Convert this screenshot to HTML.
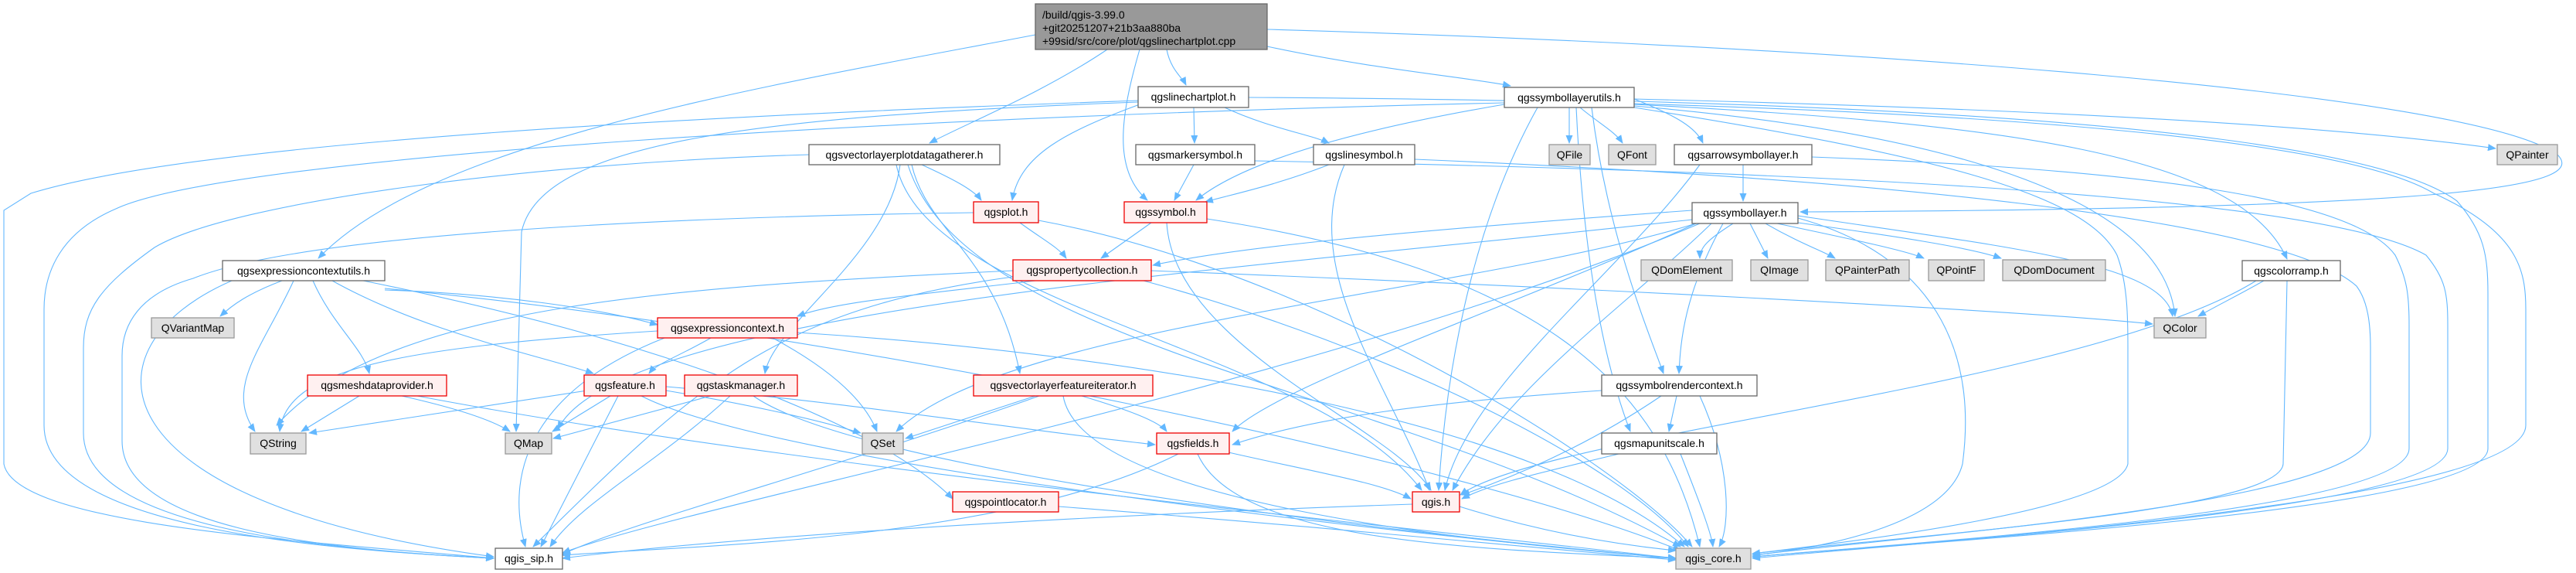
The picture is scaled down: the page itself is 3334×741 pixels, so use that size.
<!DOCTYPE html>
<html><head><meta charset="utf-8"><style>
html,body{margin:0;padding:0;background:#fff;}
svg{display:block;}
text{font-family:"Liberation Sans","DejaVu Sans",sans-serif;font-size:14px;fill:#000;}
.e{fill:none;stroke:#63b8ff;stroke-width:1.1;marker-end:url(#a);}
.n{fill:#fff;stroke:#666;stroke-width:1.3;}
.r{fill:#fff0f0;stroke:#e00;stroke-width:1.3;}
.g{fill:#e0e0e0;stroke:#999;stroke-width:1.3;}
</style></head><body>
<svg width="3334" height="741" viewBox="0 0 3334 741" xmlns="http://www.w3.org/2000/svg">
<defs><marker id="a" markerUnits="userSpaceOnUse" markerWidth="11" markerHeight="9" refX="10" refY="4.5" orient="auto"><path d="M0,0 L11,4.5 L0,9 z" fill="#63b8ff"/></marker></defs>
<g>
<path class="e" d="M1340,45 C1000,110 560,180 412,334"/>
<path class="e" d="M1433,64 C1350,120 1250,160 1203,185"/>
<path class="e" d="M1510,64 C1515,90 1530,100 1535,110"/>
<path class="e" d="M1475,64 C1450,150 1440,220 1485,259"/>
<path class="e" d="M1640,60 C1780,90 1900,100 1955,111"/>
<path class="e" d="M1640,38 C2400,60 3200,120 3310,200 C3350,240 3200,270 2330,274"/>
<path class="e" d="M1475,135 C1380,170 1320,200 1310,259"/>
<path class="e" d="M1545,139 L1546,185"/>
<path class="e" d="M1585,139 C1640,165 1700,175 1720,185"/>
<path class="e" d="M1473,130 C1200,140 300,170 40,250 L5,272 L5,600 C20,680 400,700 639,722"/>
<path class="e" d="M1616,126 C2300,130 3000,160 3150,250 C3260,300 3269,350 3269,400 L3269,550 C3269,650 2500,700 2268,722"/>
<path class="e" d="M1473,132 C1000,150 700,180 675,300 L668,558"/>
<path class="e" d="M2031,139 L2031,185"/>
<path class="e" d="M2045,139 C2070,160 2090,170 2100,185"/>
<path class="e" d="M2115,128 C2170,150 2195,165 2204,185"/>
<path class="e" d="M2115,128 C2600,140 3000,160 3230,192"/>
<path class="e" d="M2115,135 C2600,160 2900,200 2960,335"/>
<path class="e" d="M2115,137 C2500,170 2800,250 2815,409"/>
<path class="e" d="M1947,135 C1800,160 1620,200 1548,259"/>
<path class="e" d="M1990,139 C1900,300 1870,500 1862,634"/>
<path class="e" d="M2040,139 C2050,350 2080,480 2110,558"/>
<path class="e" d="M2060,139 C2080,300 2130,420 2153,483"/>
<path class="e" d="M1947,133 C1200,150 300,200 150,270 C80,300 57,350 57,400 L57,550 C57,680 400,710 639,722"/>
<path class="e" d="M2115,131 C2800,150 3100,200 3180,260 C3215,300 3220,330 3220,380 L3220,580 C3220,660 2500,700 2268,720"/>
<path class="e" d="M2115,139 C2500,200 2700,250 2740,330 C2755,370 2754,420 2754,460 L2754,600 C2740,660 2400,700 2268,716"/>
<path class="e" d="M1193,213 C1230,230 1260,245 1270,259"/>
<path class="e" d="M1180,213 C1200,300 1290,330 1320,483"/>
<path class="e" d="M1165,213 C1150,330 1000,420 990,483"/>
<path class="e" d="M1047,200 C700,210 300,260 200,320 C130,370 108,400 108,450 L108,560 C108,680 400,710 639,722"/>
<path class="e" d="M1175,213 C1250,450 1800,500 2175,707"/>
<path class="e" d="M1160,213 C1200,400 1700,450 1840,634"/>
<path class="e" d="M1545,213 L1520,259"/>
<path class="e" d="M1720,213 C1650,240 1600,250 1560,261"/>
<path class="e" d="M1740,213 C1680,350 1800,500 1850,634"/>
<path class="e" d="M1624,208 C2300,220 3000,250 3140,330 C3165,360 3168,380 3168,420 L3168,580 C3168,660 2500,700 2268,720"/>
<path class="e" d="M1831,206 C2400,230 2950,280 3050,370 C3065,390 3068,420 3068,450 L3068,560 C3068,650 2500,690 2268,718"/>
<path class="e" d="M2256,213 L2256,260"/>
<path class="e" d="M2200,213 C2100,350 1900,500 1870,634"/>
<path class="e" d="M2345,203 C2800,220 3050,260 3100,330 C3115,360 3118,380 3118,420 L3118,580 C3118,660 2500,700 2268,720"/>
<path class="e" d="M1320,288 C1350,310 1370,320 1380,334"/>
<path class="e" d="M1260,275 C900,280 400,300 250,360 C180,380 158,420 158,460 L158,570 C158,680 400,710 639,722"/>
<path class="e" d="M1344,285 C1700,350 2100,600 2190,707"/>
<path class="e" d="M1490,288 L1425,334"/>
<path class="e" d="M1510,288 C1520,450 1800,550 1852,634"/>
<path class="e" d="M1562,283 C2000,350 2150,500 2200,707"/>
<path class="e" d="M2190,272 C1800,300 1600,320 1492,343"/>
<path class="e" d="M2243,289 C2210,310 2200,320 2200,334"/>
<path class="e" d="M2265,289 L2288,334"/>
<path class="e" d="M2285,289 C2330,315 2360,325 2375,334"/>
<path class="e" d="M2300,289 C2400,310 2470,325 2490,334"/>
<path class="e" d="M2320,287 C2450,305 2550,320 2590,334"/>
<path class="e" d="M2327,279 C2600,320 2800,340 2812,409"/>
<path class="e" d="M2327,282 C2500,330 2560,450 2540,600 C2520,680 2350,710 2268,718"/>
<path class="e" d="M2195,289 C1950,400 1650,500 1595,558"/>
<path class="e" d="M2230,289 C2180,380 2175,440 2173,483"/>
<path class="e" d="M2190,284 C1600,350 800,400 722,555"/>
<path class="e" d="M2195,289 C1900,380 1300,420 1160,558"/>
<path class="e" d="M2215,289 C2100,400 1950,500 1880,634"/>
<path class="e" d="M2200,289 C1700,500 900,650 728,715"/>
<path class="e" d="M1340,363 C1200,380 1080,390 1032,409"/>
<path class="e" d="M1490,350 C2000,370 2600,400 2786,419"/>
<path class="e" d="M1480,363 C1800,450 2100,600 2185,707"/>
<path class="e" d="M1311,350 C900,370 500,390 358,550"/>
<path class="e" d="M1311,358 C1000,400 900,500 690,707"/>
<path class="e" d="M2930,363 C2900,380 2870,395 2845,409"/>
<path class="e" d="M2920,363 C2700,500 2000,560 1890,640"/>
<path class="e" d="M2960,363 L2955,600 C2950,660 2500,690 2268,716"/>
<path class="e" d="M365,363 C320,380 300,395 285,409"/>
<path class="e" d="M380,363 C340,450 290,500 330,558"/>
<path class="e" d="M405,363 C430,420 470,450 478,483"/>
<path class="e" d="M430,363 C550,430 700,460 768,483"/>
<path class="e" d="M498,375 C650,380 780,400 851,420"/>
<path class="e" d="M470,363 C900,450 1150,560 1233,645"/>
<path class="e" d="M300,363 C100,450 120,650 639,720"/>
<path class="e" d="M498,373 C1100,430 1900,600 2175,712"/>
<path class="e" d="M920,437 C880,460 850,470 840,483"/>
<path class="e" d="M851,428 C500,450 370,480 362,558"/>
<path class="e" d="M1000,437 C1080,480 1120,520 1135,558"/>
<path class="e" d="M860,437 C700,500 650,600 680,707"/>
<path class="e" d="M1032,430 C1500,460 2000,550 2180,707"/>
<path class="e" d="M465,512 L390,558"/>
<path class="e" d="M520,512 C600,530 640,545 660,558"/>
<path class="e" d="M540,512 C1000,600 1800,680 2169,722"/>
<path class="e" d="M760,505 C600,530 460,550 400,560"/>
<path class="e" d="M790,512 L715,558"/>
<path class="e" d="M862,505 C950,520 1050,540 1114,560"/>
<path class="e" d="M862,500 C1100,520 1350,560 1495,575"/>
<path class="e" d="M800,512 L700,707"/>
<path class="e" d="M830,512 C1000,600 1800,690 2169,722"/>
<path class="e" d="M920,512 L716,567"/>
<path class="e" d="M945,512 C850,600 750,650 712,707"/>
<path class="e" d="M975,512 C1100,600 1700,680 2169,722"/>
<path class="e" d="M1340,512 L1172,567"/>
<path class="e" d="M1400,512 C1460,530 1500,545 1510,558"/>
<path class="e" d="M1345,512 C1100,600 800,680 728,717"/>
<path class="e" d="M1376,512 C1400,650 1900,700 2169,722"/>
<path class="e" d="M2073,505 C1850,520 1700,540 1595,575"/>
<path class="e" d="M2170,512 L2160,558"/>
<path class="e" d="M2150,512 C2050,580 1950,620 1892,640"/>
<path class="e" d="M2200,512 C2240,600 2240,680 2225,707"/>
<path class="e" d="M2095,587 C2000,610 1930,625 1892,645"/>
<path class="e" d="M2175,587 C2200,650 2215,690 2217,707"/>
<path class="e" d="M1590,585 C1700,610 1790,625 1826,645"/>
<path class="e" d="M1550,587 C1600,700 1900,710 2169,722"/>
<path class="e" d="M1525,587 C1300,700 900,705 728,718"/>
<path class="e" d="M1370,655 C1700,680 2000,710 2169,724"/>
<path class="e" d="M1828,652 C1300,670 900,700 728,722"/>
<path class="e" d="M1889,655 C2000,690 2100,705 2169,712"/>
</g>
<g>
<rect x="1340" y="5" width="300" height="59" fill="#999" stroke="#666" stroke-width="1.3"/>
<text x="1349" y="24">/build/qgis-3.99.0</text>
<text x="1349" y="41">+git20251207+21b3aa880ba</text>
<text x="1349" y="58">+99sid/src/core/plot/qgslinechartplot.cpp</text>

<rect class="n" x="1473" y="112" width="143" height="27"/><text x="1544.5" y="130" text-anchor="middle">qgslinechartplot.h</text>
<rect class="n" x="1947" y="113" width="168" height="26"/><text x="2031" y="131" text-anchor="middle">qgssymbollayerutils.h</text>
<rect class="n" x="1047" y="187" width="247" height="26"/><text x="1170.5" y="205" text-anchor="middle">qgsvectorlayerplotdatagatherer.h</text>
<rect class="n" x="1470" y="187" width="154" height="26"/><text x="1547" y="205" text-anchor="middle">qgsmarkersymbol.h</text>
<rect class="n" x="1700" y="187" width="131" height="26"/><text x="1765.5" y="205" text-anchor="middle">qgslinesymbol.h</text>
<rect class="g" x="2005" y="187" width="53" height="26"/><text x="2031.5" y="205" text-anchor="middle">QFile</text>
<rect class="g" x="2082" y="187" width="61" height="26"/><text x="2112.5" y="205" text-anchor="middle">QFont</text>
<rect class="n" x="2167" y="187" width="178" height="26"/><text x="2256" y="205" text-anchor="middle">qgsarrowsymbollayer.h</text>
<rect class="g" x="3232" y="187" width="78" height="26"/><text x="3271" y="205" text-anchor="middle">QPainter</text>
<rect class="r" x="1260" y="261" width="84" height="27"/><text x="1302" y="279" text-anchor="middle">qgsplot.h</text>
<rect class="r" x="1455" y="261" width="107" height="27"/><text x="1508.5" y="279" text-anchor="middle">qgssymbol.h</text>
<rect class="n" x="2190" y="262" width="137" height="27"/><text x="2258.5" y="280" text-anchor="middle">qgssymbollayer.h</text>
<rect class="r" x="1311" y="336" width="179" height="27"/><text x="1400.5" y="354" text-anchor="middle">qgspropertycollection.h</text>
<rect class="g" x="2124" y="336" width="118" height="27"/><text x="2183" y="354" text-anchor="middle">QDomElement</text>
<rect class="g" x="2266" y="336" width="74" height="27"/><text x="2303" y="354" text-anchor="middle">QImage</text>
<rect class="g" x="2363" y="336" width="108" height="27"/><text x="2417" y="354" text-anchor="middle">QPainterPath</text>
<rect class="g" x="2496" y="336" width="72" height="27"/><text x="2532" y="354" text-anchor="middle">QPointF</text>
<rect class="g" x="2592" y="336" width="133" height="27"/><text x="2658.5" y="354" text-anchor="middle">QDomDocument</text>
<rect class="n" x="2902" y="337" width="127" height="26"/><text x="2965.5" y="355" text-anchor="middle">qgscolorramp.h</text>
<rect class="n" x="288" y="337" width="210" height="26"/><text x="393" y="355" text-anchor="middle">qgsexpressioncontextutils.h</text>
<rect class="g" x="196" y="411" width="107" height="26"/><text x="249.5" y="429" text-anchor="middle">QVariantMap</text>
<rect class="r" x="851" y="411" width="181" height="26"/><text x="941.5" y="429" text-anchor="middle">qgsexpressioncontext.h</text>
<rect class="g" x="2788" y="411" width="67" height="26"/><text x="2821.5" y="429" text-anchor="middle">QColor</text>
<rect class="r" x="398" y="485" width="180" height="27"/><text x="488" y="503" text-anchor="middle">qgsmeshdataprovider.h</text>
<rect class="r" x="756" y="485" width="106" height="27"/><text x="809" y="503" text-anchor="middle">qgsfeature.h</text>
<rect class="r" x="886" y="485" width="146" height="27"/><text x="959" y="503" text-anchor="middle">qgstaskmanager.h</text>
<rect class="r" x="1260" y="485" width="232" height="27"/><text x="1376" y="503" text-anchor="middle">qgsvectorlayerfeatureiterator.h</text>
<rect class="n" x="2073" y="485" width="201" height="27"/><text x="2173.5" y="503" text-anchor="middle">qgssymbolrendercontext.h</text>
<rect class="g" x="324" y="560" width="72" height="27"/><text x="360" y="578" text-anchor="middle">QString</text>
<rect class="g" x="654" y="560" width="60" height="27"/><text x="684" y="578" text-anchor="middle">QMap</text>
<rect class="g" x="1116" y="560" width="53" height="27"/><text x="1142.5" y="578" text-anchor="middle">QSet</text>
<rect class="r" x="1497" y="560" width="94" height="27"/><text x="1544" y="578" text-anchor="middle">qgsfields.h</text>
<rect class="n" x="2073" y="560" width="149" height="27"/><text x="2147.5" y="578" text-anchor="middle">qgsmapunitscale.h</text>
<rect class="r" x="1233" y="636" width="137" height="26"/><text x="1301.5" y="654" text-anchor="middle">qgspointlocator.h</text>
<rect class="r" x="1828" y="636" width="61" height="26"/><text x="1858.5" y="654" text-anchor="middle">qgis.h</text>
<rect class="n" x="641" y="709" width="87" height="27"/><text x="684.5" y="727" text-anchor="middle">qgis_sip.h</text>
<rect class="g" x="2169" y="709" width="97" height="27"/><text x="2217.5" y="727" text-anchor="middle">qgis_core.h</text>
</g>
</svg>
</body></html>
